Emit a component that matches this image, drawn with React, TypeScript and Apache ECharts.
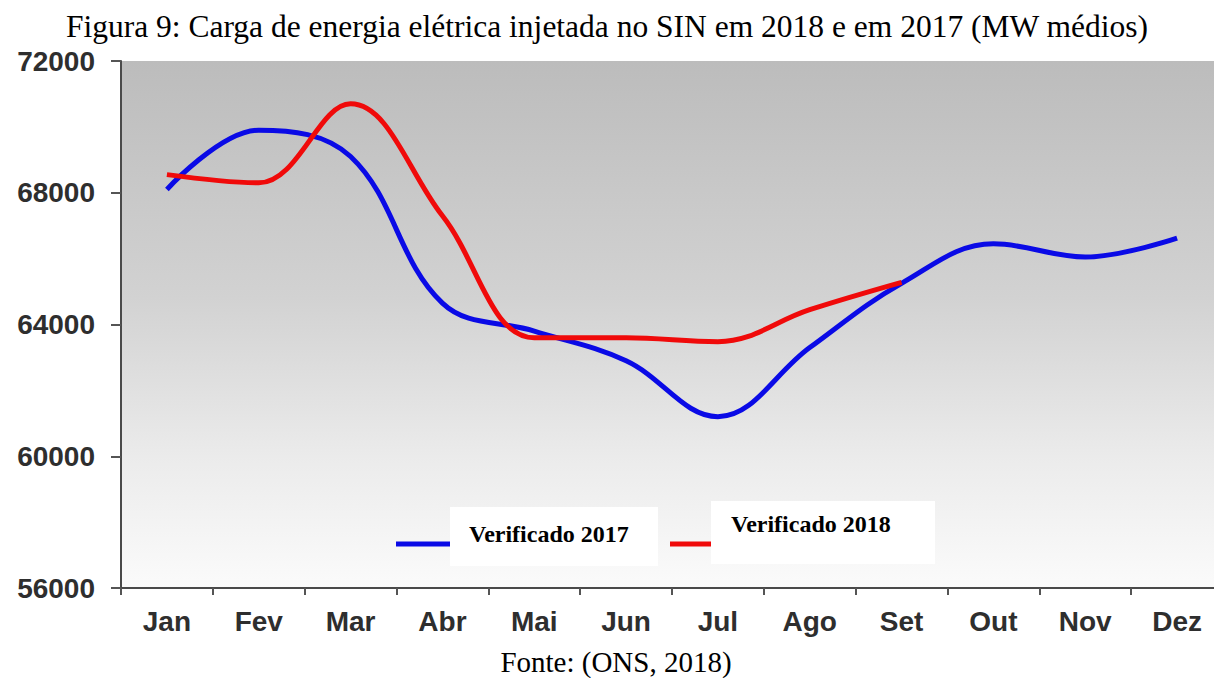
import React, { useEffect, useRef } from "react";
import * as echarts from "echarts";

const months = ["Jan", "Fev", "Mar", "Abr", "Mai", "Jun", "Jul", "Ago", "Set", "Out", "Nov", "Dez"];
const verificado2017 = [68100, 69900, 69100, 64650, 63800, 62900, 61200, 63300, 65250, 66450, 66050, 66620];
const verificado2018 = [68550, 68300, 70700, 67300, 63600, 63600, 63480, 64450, 65280];
const yTicks = { min: 56000, max: 72000, interval: 4000 };
const titleText = "Figura 9: Carga de energia elétrica injetada no SIN em 2018 e em 2017 (MW médios)";
const sourceText = "Fonte: (ONS, 2018)";
const seriesNames = ["Verificado 2017", "Verificado 2018"];

export default function App() {
  const ref = useRef<HTMLDivElement>(null);
  useEffect(() => {
    document.body.style.margin = "0";
    document.body.style.overflow = "hidden";
    const chart = echarts.init(ref.current!, null, { renderer: "svg" });
    const labelFont = { fontFamily: "Liberation Sans, Arial", fontWeight: "bold", fontSize: 28, color: "#2e2e2e" };
    chart.setOption({
      animation: false,
      backgroundColor: "#ffffff",
      grid: {
        left: 121,
        top: 61,
        width: 1102,
        height: 527,
        outerBoundsMode: "none",
        containLabel: false,
        show: true,
        borderWidth: 0,
        backgroundColor: new echarts.graphic.LinearGradient(0, 0, 0, 1, [
          { offset: 0, color: "#bcbcbc" },
          { offset: 0.45, color: "#d2d2d2" },
          { offset: 0.75, color: "#ebebeb" },
          { offset: 1, color: "#fbfbfb" },
        ]),
      },
      xAxis: {
        type: "category",
        data: months,
        boundaryGap: true,
        axisLine: { show: true, lineStyle: { color: "#4a4a4a", width: 2 } },
        axisTick: { show: true, length: 7, lineStyle: { color: "#555", width: 2 } },
        axisLabel: { ...labelFont, margin: 19, interval: 0 },
        splitLine: { show: false },
      },
      yAxis: {
        type: "value",
        min: yTicks.min,
        max: yTicks.max,
        interval: yTicks.interval,
        axisLine: { show: true, lineStyle: { color: "#4a4a4a", width: 2 } },
        axisTick: { show: true, length: 10, lineStyle: { color: "#555", width: 2 } },
        axisLabel: { ...labelFont, margin: 26, formatter: (v: number) => String(v) },
        splitLine: { show: false },
      },
      series: [
        {
          name: seriesNames[0],
          type: "line",
          data: verificado2017,
          smooth: 0.38,
          showSymbol: false,
          lineStyle: { color: "#0a0ae6", width: 5 },
          itemStyle: { color: "#0a0ae6" },
        },
        {
          name: seriesNames[1],
          type: "line",
          data: verificado2018,
          smooth: 0.38,
          showSymbol: false,
          lineStyle: { color: "#f00a0a", width: 5 },
          itemStyle: { color: "#f00a0a" },
        },
      ],
      graphic: [
        {
          type: "text",
          x: 607,
          y: 26,
          style: {
            text: titleText,
            fontFamily: "Liberation Serif, Times New Roman",
            fontSize: 31.5,
            fill: "#000",
            align: "center",
            verticalAlign: "middle",
          },
        },
        {
          type: "text",
          x: 616,
          y: 662,
          style: {
            text: sourceText,
            fontFamily: "Liberation Serif, Times New Roman",
            fontSize: 29,
            fill: "#000",
            align: "center",
            verticalAlign: "middle",
          },
        },
        {
          type: "line",
          shape: { x1: 396, y1: 544, x2: 452, y2: 544 },
          style: { stroke: "#0a0ae6", lineWidth: 5 },
          z: 10,
        },
        {
          type: "rect",
          shape: { x: 450, y: 507, width: 208, height: 59 },
          style: { fill: "#ffffff" },
          z: 11,
        },
        {
          type: "text",
          x: 469,
          y: 534,
          z: 12,
          style: {
            text: seriesNames[0],
            fontFamily: "Liberation Serif, Times New Roman",
            fontWeight: "bold",
            fontSize: 24,
            fill: "#000",
            verticalAlign: "middle",
          },
        },
        {
          type: "line",
          shape: { x1: 670, y1: 544, x2: 713, y2: 544 },
          style: { stroke: "#f00a0a", lineWidth: 5 },
          z: 10,
        },
        {
          type: "rect",
          shape: { x: 711, y: 501, width: 224, height: 63 },
          style: { fill: "#ffffff" },
          z: 11,
        },
        {
          type: "text",
          x: 731,
          y: 524,
          z: 12,
          style: {
            text: seriesNames[1],
            fontFamily: "Liberation Serif, Times New Roman",
            fontWeight: "bold",
            fontSize: 24,
            fill: "#000",
            verticalAlign: "middle",
          },
        },
      ],
    });
    return () => chart.dispose();
  }, []);
  return <div ref={ref} style={{ position: "absolute", left: 0, top: 0, width: 1214, height: 678 }} />;
}
